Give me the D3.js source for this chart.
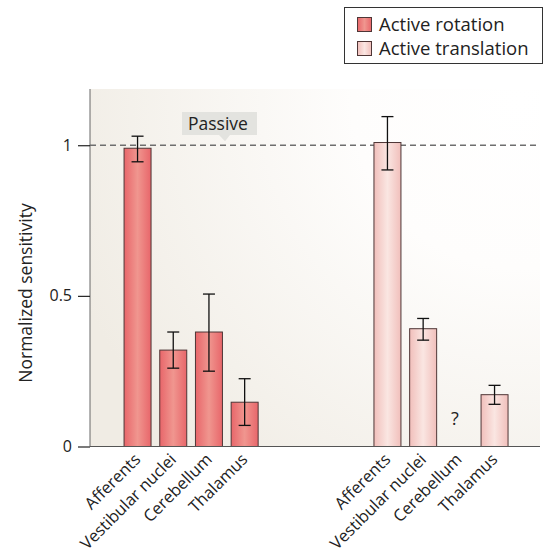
<!DOCTYPE html>
<html>
<head>
<meta charset="utf-8">
<script src="https://cdn.jsdelivr.net/npm/d3@7"></script>
<style>
  body { margin: 0; background: #fff; }
  svg { display: block; font-family: "Open Sans", "Noto Sans", sans-serif; }
</style>
</head>
<body>
<svg id="chart" width="551" height="557"></svg>
<script>
// Regions recorded, in plotting order
const regions = ["Afferents", "Vestibular nuclei", "Cerebellum", "Thalamus"];
// Normalized sensitivity (mean, lower error, upper error)
const rotationMean = [0.99, 0.32, 0.38, 0.147];
const rotationLow  = [0.945, 0.26, 0.25, 0.07];
const rotationHigh = [1.03, 0.38, 0.506, 0.225];
const translationMean = [1.009, 0.391, null, 0.172];
const translationLow  = [0.918, 0.353, null, 0.14];
const translationHigh = [1.095, 0.425, null, 0.203];
const yTicks = [0, 0.5, 1];
const yTickLabels = ["0", "0.5", "1"];
const seriesNames = ["Active rotation", "Active translation"];
const passiveLevel = 1;

const svg = d3.select("#chart");
const plotLeft = 90, plotRight = 540, plotTop = 91, plotBottom = 446.5;

// slot layout: 4 rotation bars, 3 empty slots, 4 translation bars
const slots = d3.range(11);
const x = d3.scaleBand().domain(slots).range([119.7, 512.4]).paddingInner(0.244).paddingOuter(0.122);
const y = d3.scaleLinear().domain([0, 1.18]).range([plotBottom, plotTop]);

const defs = svg.append("defs");
const bg = defs.append("radialGradient").attr("id", "bg")
  .attr("gradientUnits", "userSpaceOnUse")
  .attr("cx", 520).attr("cy", 100).attr("r", 480);
bg.append("stop").attr("offset", 0).attr("stop-color", "#ffffff");
bg.append("stop").attr("offset", 0.35).attr("stop-color", "#fefdfc");
bg.append("stop").attr("offset", 1).attr("stop-color", "#f0ece4");

function barGrad(id, edge, mid) {
  const g = defs.append("linearGradient").attr("id", id).attr("x1", 0).attr("x2", 1).attr("y1", 0).attr("y2", 0);
  g.append("stop").attr("offset", 0).attr("stop-color", edge);
  g.append("stop").attr("offset", 0.5).attr("stop-color", mid);
  g.append("stop").attr("offset", 1).attr("stop-color", edge);
}
barGrad("rot", "#e8666a", "#f0968f");
barGrad("tra", "#f1bfbb", "#fae6e2");

// plot background
svg.append("rect").attr("x", plotLeft).attr("y", plotTop - 2).attr("width", plotRight - plotLeft).attr("height", plotBottom - plotTop + 2)
  .attr("fill", "url(#bg)");

// passive reference line
svg.append("line").attr("x1", plotLeft).attr("x2", plotRight)
  .attr("y1", y(passiveLevel)).attr("y2", y(passiveLevel))
  .attr("stroke", "#6e6e6e").attr("stroke-width", 1.3).attr("stroke-dasharray", "6,4");

// passive callout
const cb = svg.append("g");
cb.append("path")
  .attr("d", `M182,112 H257 V135 H230 L225,${y(passiveLevel) - 4} L219,135 H182 Z`)
  .attr("fill", "#e3e3df");
cb.append("text").attr("x", 188).attr("y", 130).attr("font-size", 17.5).attr("fill", "#222").text("Passive");

// bars
const rows = [];
regions.forEach((r, i) => {
  rows.push({slot: i, v: rotationMean[i], lo: rotationLow[i], hi: rotationHigh[i], s: "rot", label: r});
  rows.push({slot: i + 7, v: translationMean[i], lo: translationLow[i], hi: translationHigh[i], s: "tra", label: r});
});

const bars = rows.filter(d => d.v !== null);
svg.selectAll("rect.bar").data(bars).join("rect").attr("class", "bar")
  .attr("x", d => x(d.slot)).attr("width", x.bandwidth())
  .attr("y", d => y(d.v)).attr("height", d => y(0) - y(d.v))
  .attr("fill", d => `url(#${d.s})`).attr("stroke", "#4e3636").attr("stroke-width", 1);

// error bars
const cx = d => x(d.slot) + x.bandwidth() / 2;
const eg = svg.selectAll("g.err").data(bars).join("g").attr("class", "err")
  .attr("stroke", "#111").attr("stroke-width", 1.3);
eg.append("line").attr("x1", cx).attr("x2", cx)
  .attr("y1", d => y(d.lo)).attr("y2", d => y(d.hi));
eg.append("line").attr("x1", d => cx(d) - 6).attr("x2", d => cx(d) + 6)
  .attr("y1", d => y(d.lo)).attr("y2", d => y(d.lo));
eg.append("line").attr("x1", d => cx(d) - 6).attr("x2", d => cx(d) + 6)
  .attr("y1", d => y(d.hi)).attr("y2", d => y(d.hi));

// missing value marker
rows.filter(d => d.v === null).forEach(d => {
  svg.append("text").attr("x", cx(d) - 4).attr("y", 425)
    .attr("text-anchor", "middle").attr("font-size", 18).attr("fill", "#222").text("?");
});

// y axis
const yAxis = d3.axisLeft(y).tickValues(yTicks).tickFormat((d, i) => yTickLabels[i]).tickSize(12).tickPadding(6);
const ya = svg.append("g").attr("transform", `translate(${plotLeft},0)`).call(yAxis);
ya.select(".domain").attr("d", `M0,${plotTop - 2}V${plotBottom}`).attr("stroke", "#666");
ya.selectAll(".tick line").attr("stroke", "#222").attr("stroke-width", 1.2);
ya.selectAll(".tick text").attr("font-size", 16).attr("fill", "#222").attr("font-family", "Open Sans, sans-serif");

// x axis baseline
svg.append("line").attr("x1", plotLeft).attr("x2", plotRight).attr("y1", plotBottom).attr("y2", plotBottom)
  .attr("stroke", "#555").attr("stroke-width", 1.2);

// category labels
svg.selectAll("text.cat").data(rows).join("text").attr("class", "cat")
  .attr("transform", d => `translate(${cx(d) + 4},${plotBottom + 14}) rotate(-45)`)
  .attr("text-anchor", "end").attr("font-size", 16.5).attr("fill", "#222").text(d => d.label);

// y title
svg.append("text").attr("transform", `translate(32,293) rotate(-90)`)
  .attr("text-anchor", "middle").attr("font-size", 17.5).attr("fill", "#222").text("Normalized sensitivity");

// legend
const lg = svg.append("g");
lg.append("rect").attr("x", 344.5).attr("y", 7.5).attr("width", 198).attr("height", 56)
  .attr("fill", "#fff").attr("stroke", "#333").attr("stroke-width", 1);
["rot", "tra"].forEach((s, i) => {
  lg.append("rect").attr("x", 357.5).attr("y", 17.5 + i * 24).attr("width", 14).attr("height", 14)
    .attr("fill", `url(#${s})`).attr("stroke", "#4e3636").attr("stroke-width", 1);
  lg.append("text").attr("x", 379).attr("y", 30.5 + i * 24).attr("font-size", 18.5).attr("fill", "#222").text(seriesNames[i]);
});
</script>
</body>
</html>
